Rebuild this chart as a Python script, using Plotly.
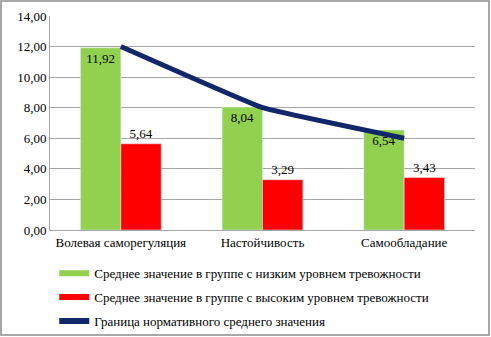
import plotly.graph_objects as go

categories = ["Волевая саморегуляция", "Настойчивость", "Самообладание"]
low_anxiety = [11.92, 8.04, 6.54]
high_anxiety = [5.64, 3.29, 3.43]
norm_bound = [12.0, 8.0, 6.0]
name_low = "Среднее значение в группе с низким уровнем тревожности"
name_high = "Среднее значение в группе с высоким уровнем тревожности"
name_norm = "Граница нормативного среднего значения"
yticks = [0, 2, 4, 6, 8, 10, 12, 14]

GREEN = "#92d050"
RED = "#ff0000"
NAVY = "#12266a"
FONT = "Liberation Serif, Times New Roman, DejaVu Serif, serif"

fig = go.Figure()
fig.add_trace(go.Bar(x=categories, y=low_anxiety, name=name_low, marker_color=GREEN,
                     text=[f"{v:.2f}".replace(".", ",") for v in low_anxiety],
                     textposition="inside", insidetextanchor="end",
                     textfont=dict(color="black", size=13, family=FONT),
                     showlegend=False, cliponaxis=False))
fig.add_trace(go.Bar(x=categories, y=high_anxiety, name=name_high, marker_color=RED,
                     text=[f"{v:.2f}".replace(".", ",") for v in high_anxiety],
                     textposition="outside",
                     textfont=dict(color="black", size=13, family=FONT),
                     showlegend=False, cliponaxis=False))
fig.add_trace(go.Scatter(x=categories, y=norm_bound, mode="lines", name=name_norm,
                         line=dict(color=NAVY, width=5, shape="spline", smoothing=0.25),
                         showlegend=False))
# legend entries
for nm, col, grp in [(name_low, GREEN, "a"), (name_high, RED, "b"), (name_norm, NAVY, "c")]:
    fig.add_trace(go.Scatter(x=[None], y=[None], mode="lines", name=nm,
                             line=dict(color=col, width=6), legendgroup=grp))

fig.update_layout(
    width=491, height=337,
    margin=dict(l=50, r=16, t=16, b=107, autoexpand=False),
    paper_bgcolor="white", plot_bgcolor="white",
    separators=", ",
    barmode="group", bargap=0.43, bargroupgap=0,
    font=dict(family=FONT, size=12, color="black"),
    showlegend=True,
    legend=dict(orientation="v", x=0.01, xanchor="left", y=-0.132, yanchor="top",
                font=dict(family=FONT, size=13, color="black"),
                tracegroupgap=4, itemwidth=30, bgcolor="rgba(0,0,0,0)"),
    shapes=[dict(type="rect", xref="paper", yref="paper",
                 x0=-49/425, x1=439/425, y0=-105/214, y1=229/214,
                 line=dict(color="#8c8c8c", width=1.5), fillcolor="rgba(0,0,0,0)")],
)
fig.update_yaxes(range=[0, 14], tickvals=yticks, tickformat=".2f",
                 showgrid=True, gridcolor="#a6a6a6", gridwidth=1,
                 showline=True, linecolor="#a6a6a6", linewidth=1,
                 zeroline=False, ticks="", tickfont=dict(size=13, family=FONT),
                 fixedrange=True)
fig.update_xaxes(showline=True, linecolor="#a6a6a6", linewidth=1, ticks="",
                 tickfont=dict(size=13, family=FONT), fixedrange=True)

fig.write_html("out.html")
